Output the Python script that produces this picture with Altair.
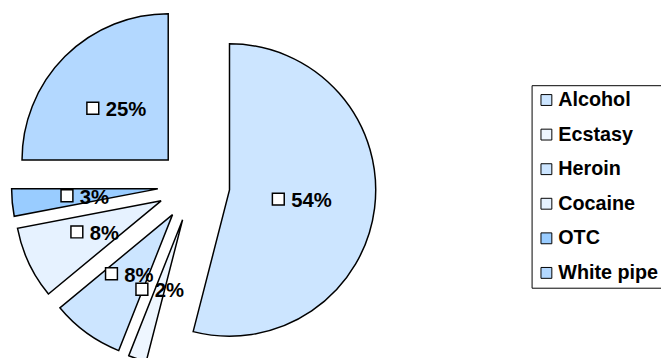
import altair as alt
import pandas as pd

categories = ["Alcohol", "Ecstasy", "Heroin", "Cocaine", "OTC", "White pipe"]
values = [54, 2, 8, 8, 3, 25]
colors = ["#CCE5FF", "#EEF6FF", "#CCE5FF", "#E6F2FF", "#99CCFF", "#B3D8FF"]

# geometry / style
CX, CY = 188, 177.5
R = 148
EXPLODE = 36.5
LABEL_R = EXPLODE + 74
FS = 20.5
LFS = 20
FONT = "Liberation Sans"

df = pd.DataFrame({"category": categories, "value": values,
                   "order": list(range(len(categories)))})

base = (
    alt.Chart(df)
    .transform_joinaggregate(total="sum(value)")
    .transform_window(cum="sum(value)", sort=[alt.SortField("order")], frame=[None, 0])
    .transform_calculate(t0="2*PI*(datum.cum-datum.value)/datum.total")
    .transform_calculate(t1="2*PI*datum.cum/datum.total")
    .transform_calculate(mid="(datum.t0+datum.t1)/2")
    .transform_calculate(px=f"{CX}+{EXPLODE}*sin(datum.mid)")
    .transform_calculate(py=f"{CY}-{EXPLODE}*cos(datum.mid)")
    .transform_calculate(bx=f"{CX}+{LABEL_R}*sin(datum.mid)")
    .transform_calculate(by=f"{CY}-{LABEL_R}*cos(datum.mid)")
    .transform_calculate(label="datum.value+'%'")
    .transform_calculate(tw=f"{FS}*(0.556*(length(datum.label)-1)+0.889)")
    .transform_calculate(sqx="datum.bx-(19+datum.tw)/2+6")
    .transform_calculate(txx="datum.sqx+13")
    .transform_calculate(ty="datum.by+2")
)

arcs = base.mark_arc(outerRadius=R, stroke="black", strokeWidth=1.5).encode(
    theta=alt.Theta("t0:Q", scale=None, stack=None),
    theta2="t1:Q",
    x=alt.X("px:Q", scale=None, axis=None),
    y=alt.Y("py:Q", scale=None, axis=None),
    color=alt.Color(
        "category:N",
        scale=alt.Scale(domain=categories, range=colors),
        legend=alt.Legend(
            title=None, orient="none", legendX=530, legendY=76,
            strokeColor="black", padding=5,
            symbolType="square", symbolSize=121,
            symbolStrokeColor="black", symbolStrokeWidth=1,
            symbolOpacity=1,
            labelFont=FONT, labelFontWeight="bold", labelFontSize=LFS,
            labelColor="black", rowPadding=15, labelOffset=2, labelLimit=300,
        ),
    ),
)

squares = base.mark_square(size=144, fill="white", stroke="black",
                           strokeWidth=1.5, opacity=1).encode(
    x=alt.X("sqx:Q", scale=None, axis=None),
    y=alt.Y("by:Q", scale=None, axis=None),
)

texts = base.mark_text(align="left", baseline="middle", font=FONT,
                       fontWeight="bold", fontSize=FS, color="black").encode(
    x=alt.X("txx:Q", scale=None, axis=None),
    y=alt.Y("ty:Q", scale=None, axis=None),
    text="label:N",
)

chart = (
    alt.layer(arcs, squares, texts)
    .properties(width=661, height=350, autosize="none", padding=0)
    .configure_view(stroke=None)
)

chart.save("out.html", embed_options={"renderer": "svg", "actions": False})
